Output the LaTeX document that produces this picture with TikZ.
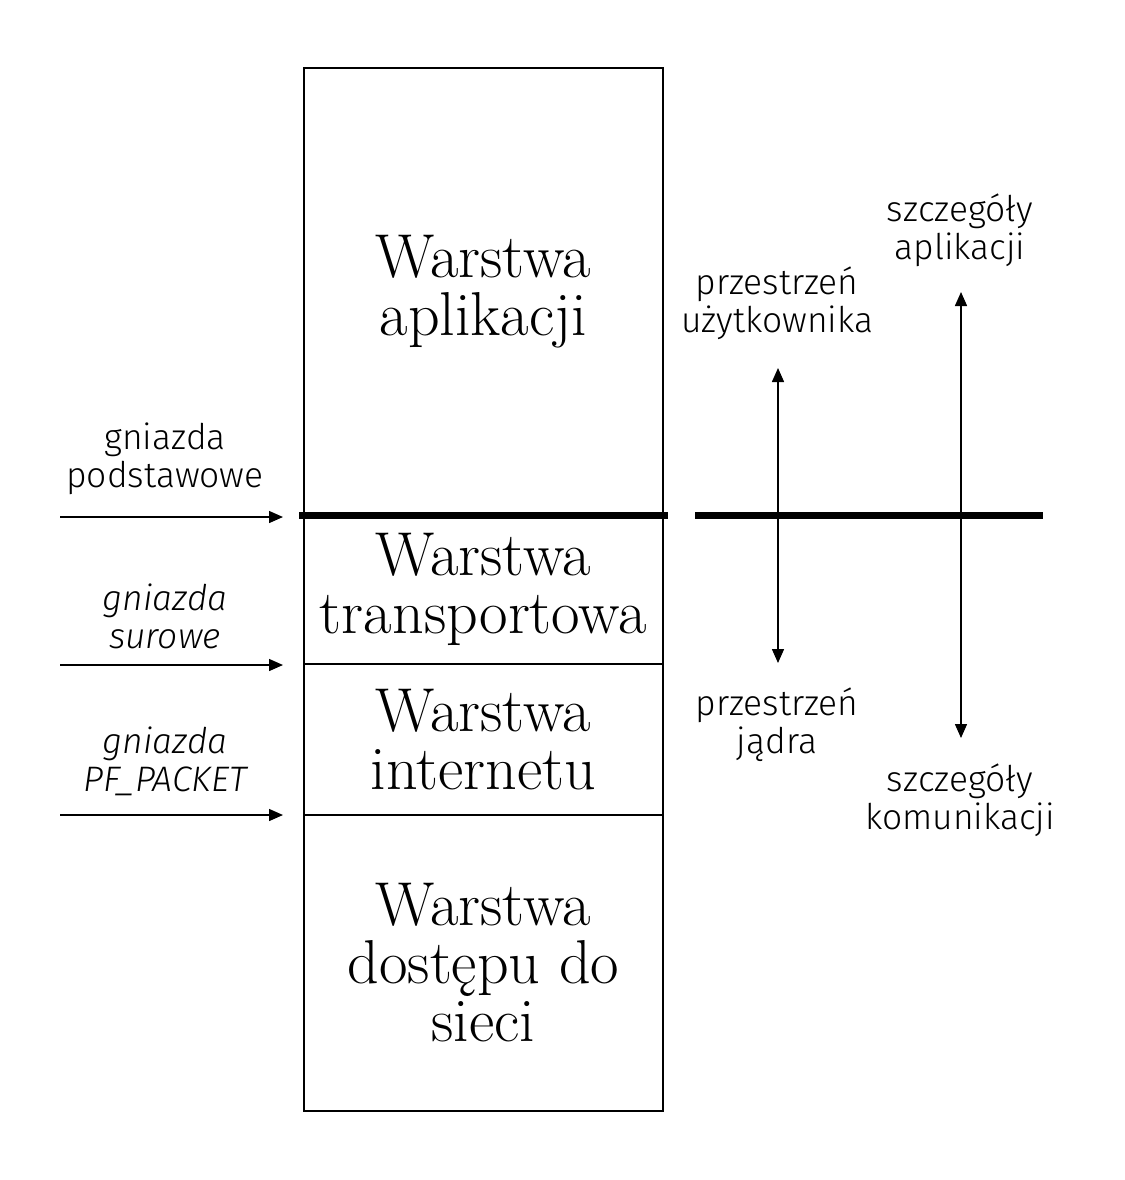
\documentclass[tikz,border=0pt]{standalone}
\usepackage{fontspec}
\newfontfamily\sidefont{Fira Sans Light}
\usetikzlibrary{positioning,arrows.meta}

\tikzset{
	layer/.style={draw, line width=0.75pt, minimum width=179.5pt, inner sep=0pt, outer sep=0pt,
		align=center, font=\fontsize{31}{29}\selectfont},
	sidelbl/.style={align=center, font=\sidefont\fontsize{17.7}{19}\selectfont},
	boundary/.style={line width=3.5pt},
	arr/.style={line width=0.75pt, -{Triangle[length=7pt,width=6pt]}},
	darr/.style={line width=0.75pt, {Triangle[length=7pt,width=6pt]}-{Triangle[length=7pt,width=6pt]}},
}

\begin{document}
\begin{tikzpicture}[x=0.5pt, y=-0.5pt]

	\useasboundingbox (0,0) rectangle (1125,1180);

	% ---- layers

	\node[layer, minimum height=223.5pt, anchor=north west] (app) at (304,68) {Warstwa\\aplikacji};
	\node[layer, minimum height=74.5pt, below=0pt of app] (trans) {Warstwa\\transportowa};
	\node[layer, minimum height=75.5pt, below=0pt of trans] (inet) {Warstwa\\internetu};
	\node[layer, minimum height=148pt, below=0pt of inet] (access) {Warstwa\\dostępu do\\sieci};

	% ---- user / kernel boundary

	\coordinate (bl) at (299,515);
	\coordinate (br) at (668,515);
	\coordinate (rl) at (695,515);
	\coordinate (rr) at (1043,515);
	\draw[boundary] (bl) -- (br);
	\draw[boundary] (rl) -- (rr);

	% ---- sockets

	\coordinate (in1) at (60,517);   \coordinate (out1) at (283,517);
	\coordinate (in2) at (60,665);   \coordinate (out2) at (283,665);
	\coordinate (in3) at (60,815);   \coordinate (out3) at (283,815);

	\draw[arr] (in1) -- (out1);
	\draw[arr] (in2) -- (out2);
	\draw[arr] (in3) -- (out3);

	\node[sidelbl] (sock1) at (165,459) {gniazda\\podstawowe};
	\node[sidelbl] (sock2) at (165,616) {\itshape gniazda\\\itshape surowe};
	\node[sidelbl] (sock3) at (165,761) {\itshape gniazda\\\itshape PF\_PACKET};

	% ---- spaces

	\coordinate (us) at (778,368);   \coordinate (ks) at (778,663);
	\coordinate (ad) at (961,292);   \coordinate (cd) at (961,738);

	\draw[darr] (us) -- (ks);
	\draw[darr] (ad) -- (cd);

	\node[sidelbl] (user) at (777,303) {przestrzeń\\użytkownika};
	\node[sidelbl] (kern) at (777,725) {przestrzeń\\jądra};
	\node[sidelbl] (appd) at (960,230) {szczegóły\\aplikacji};
	\node[sidelbl] (comd) at (960,800) {szczegóły\\komunikacji};

\end{tikzpicture}
\end{document}
